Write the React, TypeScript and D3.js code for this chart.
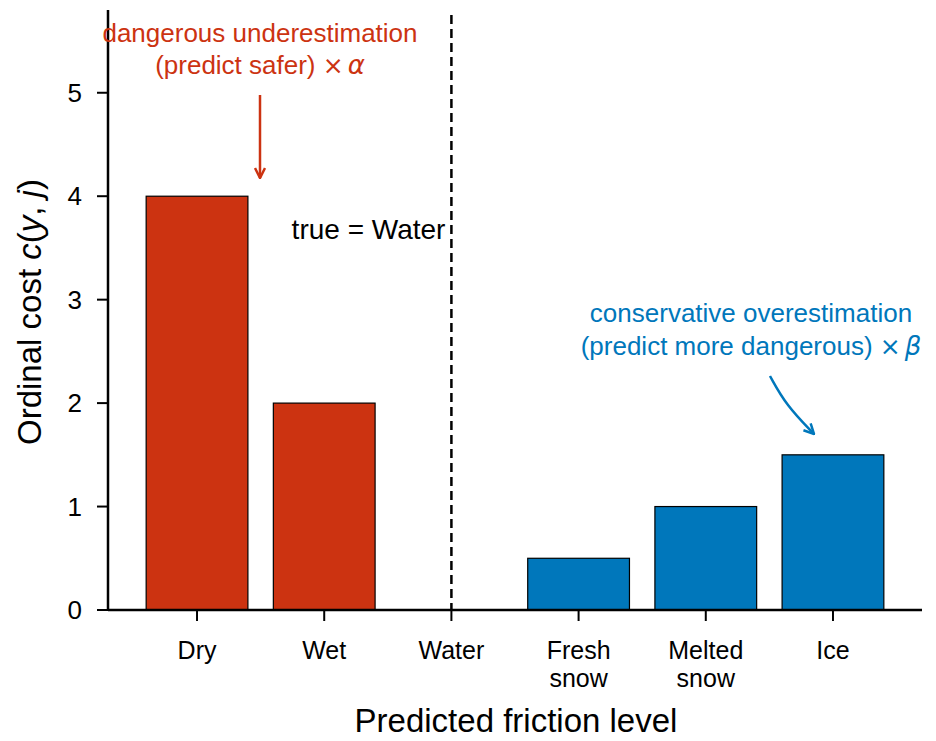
import React from "react";
import * as d3 from "d3";

const categories = ["Dry", "Wet", "Water", "Fresh\nsnow", "Melted\nsnow", "Ice"];
const costs = [4, 2, 0, 0.5, 1, 1.5];
const trueIndex = 2;
const yTicks = [0, 1, 2, 3, 4, 5];

const RED = "#CC3311";
const BLUE = "#0077BB";
const FONT = "'Liberation Sans', Arial, sans-serif";
const MATH = "'DejaVu Sans', sans-serif";

export default function App() {
  const W = 936;
  const H = 741;
  const x = d3.scaleLinear().domain([-0.7, 5.7]).range([108, 922]);
  const y = d3.scaleLinear().domain([0, 5.8]).range([610, 10]);
  const unit = x(1) - x(0);
  const barW = unit * 0.8;

  const curve = d3.line().curve(d3.curveBasis);
  const blueArrow = curve([
    [770, 376],
    [786, 405],
    [814, 434],
  ]);

  return (
    <svg width={W} height={H} style={{ position: "absolute", left: 0, top: 0 }} fontFamily={FONT}>
      <defs>
        <marker id="headRed" viewBox="0 0 12 12" refX="11" refY="6" markerWidth="12" markerHeight="12" markerUnits="userSpaceOnUse" orient="auto">
          <path d="M1,1 L11,6 L1,11" fill="none" stroke={RED} strokeWidth="2.5" />
        </marker>
        <marker id="headBlue" viewBox="0 0 12 12" refX="11" refY="6" markerWidth="12" markerHeight="12" markerUnits="userSpaceOnUse" orient="auto">
          <path d="M1,1 L11,6 L1,11" fill="none" stroke={BLUE} strokeWidth="2.5" />
        </marker>
      </defs>

      {/* bars */}
      {costs.map((c, i) =>
        i === trueIndex ? null : (
          <rect
            key={i}
            x={x(i) - barW / 2}
            y={y(c)}
            width={barW}
            height={y(0) - y(c)}
            fill={i < trueIndex ? RED : BLUE}
            stroke="#000"
            strokeWidth={1.2}
          />
        )
      )}

      {/* true class marker */}
      <line x1={x(trueIndex)} x2={x(trueIndex)} y1={y(5.8) + 5} y2={y(0)} stroke="#000" strokeWidth={2.5} strokeDasharray="9,5" />
      <text x={x(trueIndex) - 6} y={239} textAnchor="end" fontSize={28}>true = Water</text>

      {/* axes */}
      <line x1={108} x2={108} y1={y(5.8)} y2={y(0)} stroke="#000" strokeWidth={2.5} />
      <line x1={108} x2={922} y1={y(0)} y2={y(0)} stroke="#000" strokeWidth={2.5} />
      {yTicks.map((t) => (
        <g key={t}>
          <line x1={97} x2={108} y1={y(t)} y2={y(t)} stroke="#000" strokeWidth={2} />
          <text x={82} y={y(t) + 9} textAnchor="end" fontSize={26}>{t}</text>
        </g>
      ))}
      {categories.map((c, i) => (
        <g key={i}>
          <line x1={x(i)} x2={x(i)} y1={y(0)} y2={y(0) + 11} stroke="#000" strokeWidth={2} />
          <text x={x(i)} y={659} textAnchor="middle" fontSize={25}>
            {c.split("\n").map((s, k) => (
              <tspan key={k} x={x(i)} dy={k === 0 ? 0 : 28}>{s}</tspan>
            ))}
          </text>
        </g>
      ))}

      <text x={516} y={732} textAnchor="middle" fontSize={33}>Predicted friction level</text>
      <text transform="translate(41,312) rotate(-90)" textAnchor="middle" fontSize={33}>
        Ordinal cost <tspan fontStyle="italic">c</tspan>(<tspan fontStyle="italic">y</tspan>, <tspan fontStyle="italic">j</tspan>)
      </text>

      {/* annotations */}
      <text x={260} y={42} textAnchor="middle" fontSize={26} fill={RED}>dangerous underestimation</text>
      <text x={260} y={74} textAnchor="middle" fontSize={26} fill={RED}>
        (predict safer) <tspan fontFamily={MATH} fontSize={25}>×</tspan><tspan dx={4} fontFamily={MATH} fontStyle="italic">α</tspan>
      </text>
      <line x1={260} x2={260} y1={95} y2={178} stroke={RED} strokeWidth={2.5} markerEnd="url(#headRed)" />

      <text x={751} y={322} textAnchor="middle" fontSize={26} fill={BLUE}>conservative overestimation</text>
      <text x={751} y={355} textAnchor="middle" fontSize={26} fill={BLUE}>
        (predict more dangerous) <tspan fontFamily={MATH} fontSize={25}>×</tspan><tspan dx={4} fontFamily={MATH} fontStyle="italic">β</tspan>
      </text>
      <path d={blueArrow ?? ""} fill="none" stroke={BLUE} strokeWidth={2.5} markerEnd="url(#headBlue)" />
    </svg>
  );
}
